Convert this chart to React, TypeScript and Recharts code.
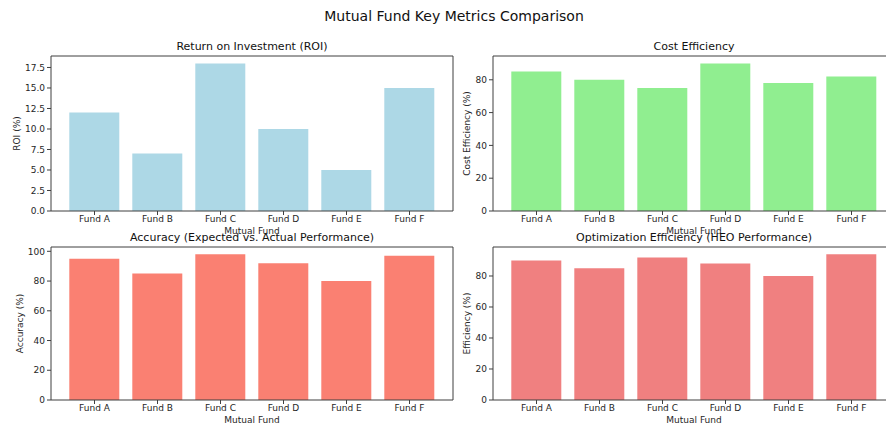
import { BarChart, Bar, XAxis, YAxis, Label } from "recharts"

const funds = ["Fund A", "Fund B", "Fund C", "Fund D", "Fund E", "Fund F"]
const roi = [12, 7, 18, 10, 5, 15]
const costEfficiency = [85, 80, 75, 90, 78, 82]
const accuracy = [95, 85, 98, 92, 80, 97]
const optEfficiency = [90, 85, 92, 88, 80, 94]

const roiTicks = [0, 2.5, 5, 7.5, 10, 12.5, 15, 17.5]
const pctTicks = [0, 20, 40, 60, 80]
const accTicks = [0, 20, 40, 60, 80, 100]

const FONT = "'DejaVu Sans', sans-serif"
const SPINE = "#3f3f3f"
const TEXT = "#262626"

type PanelProps = {
  title: string
  yLabel: string
  values: number[]
  color: string
  ticks: number[]
  yMax: number
  fmt?: (v: number) => string
  labelX: number
  left: number
  top: number
  plotH: number
}

function Panel({ title, yLabel, values, color, ticks, yMax, fmt, labelX, left, top, plotH }: PanelProps) {
  const data = funds.map((f, i) => ({ fund: f, value: values[i] }))
  const tickStyle = { fill: TEXT, fontSize: 9, fontFamily: FONT }
  return (
    <div style={{ position: "absolute", left, top }}>
      <BarChart
        width={460}
        height={22 + plotH + 30}
        data={data}
        margin={{ top: 21, right: 6, left: 0, bottom: 0 }}
        barCategoryGap="10%"
      >
        <XAxis
          dataKey="fund"
          height={30}
          interval={0}
          padding={{ left: 12, right: 12 }}
          tick={tickStyle}
          tickSize={4}
          tickMargin={1}
          axisLine={{ stroke: SPINE }}
          tickLine={{ stroke: SPINE }}
        >
          <Label
            content={({ viewBox }: any) => (
              <text
                x={viewBox.x + viewBox.width / 2}
                y={viewBox.y + 23}
                textAnchor="middle"
                fontSize={9}
                fontFamily={FONT}
                fill={TEXT}
              >
                Mutual Fund
              </text>
            )}
          />
        </XAxis>
        <XAxis
          xAxisId="top"
          dataKey="fund"
          orientation="top"
          height={1}
          padding={{ left: 12, right: 12 }}
          tick={false}
          tickLine={false}
          axisLine={{ stroke: SPINE }}
        >
          <Label
            content={({ viewBox }: any) => (
              <text
                x={viewBox.x + viewBox.width / 2}
                y={viewBox.y + viewBox.height - 6}
                textAnchor="middle"
                fontSize={11}
                fontFamily={FONT}
                fill="#111"
              >
                {title}
              </text>
            )}
          />
        </XAxis>
        <YAxis
          width={51}
          type="number"
          domain={[0, yMax]}
          ticks={ticks}
          tickFormatter={fmt}
          tick={tickStyle}
          tickSize={4}
          tickMargin={2}
          axisLine={{ stroke: SPINE }}
          tickLine={{ stroke: SPINE }}
          allowDataOverflow
        >
          <Label
            content={({ viewBox }: any) => {
              const x = viewBox.x + labelX
              const y = viewBox.y + viewBox.height / 2
              return (
                <text
                  x={x}
                  y={y}
                  transform={`rotate(-90, ${x}, ${y})`}
                  textAnchor="middle"
                  dominantBaseline="central"
                  fontSize={9}
                  fontFamily={FONT}
                  fill={TEXT}
                >
                  {yLabel}
                </text>
              )
            }}
          />
        </YAxis>
        <YAxis
          yAxisId="right"
          orientation="right"
          width={1}
          type="number"
          domain={[0, yMax]}
          allowDataOverflow
          tick={false}
          tickLine={false}
          axisLine={{ stroke: SPINE }}
        />
        <Bar dataKey="value" fill={color} isAnimationActive={false} />
        <Bar
          dataKey="value"
          xAxisId="top"
          yAxisId="right"
          fill="none"
          fillOpacity={0}
          isAnimationActive={false}
        />
      </BarChart>
    </div>
  )
}

export default function App() {
  return (
    <div
      style={{
        position: "relative",
        width: 886,
        height: 428,
        overflow: "hidden",
        background: "#fff",
        fontFamily: FONT,
      }}
    >
      <style>{`body{margin:0}`}</style>
      <div
        style={{
          position: "absolute",
          left: 254,
          width: 400,
          top: 8,
          textAlign: "center",
          fontSize: 14,
          color: "#111",
        }}
      >
        Mutual Fund Key Metrics Comparison
      </div>
      <Panel
        title="Return on Investment (ROI)"
        yLabel="ROI (%)"
        values={roi}
        color="#ADD8E6"
        ticks={roiTicks}
        yMax={18.9}
        fmt={(v) => v.toFixed(1)}
        labelX={17}
        left={0}
        top={34}
        plotH={155}
      />
      <Panel
        title="Cost Efficiency"
        yLabel="Cost Efficiency (%)"
        values={costEfficiency}
        color="#90EE90"
        ticks={pctTicks}
        yMax={94.5}
        labelX={25}
        left={442}
        top={34}
        plotH={155}
      />
      <Panel
        title="Accuracy (Expected vs. Actual Performance)"
        yLabel="Accuracy (%)"
        values={accuracy}
        color="#FA8072"
        ticks={accTicks}
        yMax={102.9}
        labelX={20}
        left={0}
        top={224.5}
        plotH={153}
      />
      <Panel
        title="Optimization Efficiency (HEO Performance)"
        yLabel="Efficiency (%)"
        values={optEfficiency}
        color="#F08080"
        ticks={pctTicks}
        yMax={98.7}
        labelX={25}
        left={442}
        top={224.5}
        plotH={153}
      />
    </div>
  )
}
